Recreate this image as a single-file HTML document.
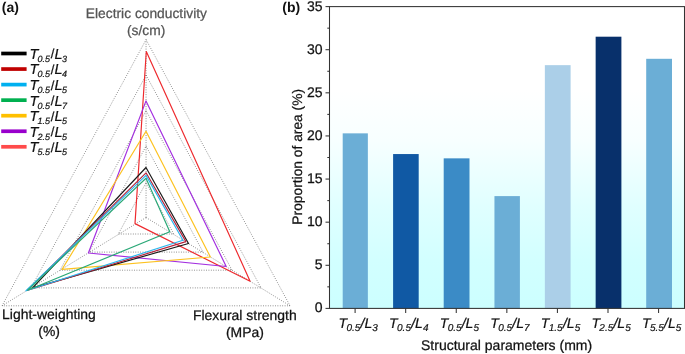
<!DOCTYPE html>
<html lang="en"><head><meta charset="utf-8"><title>Figure</title>
<style>
html,body{margin:0;padding:0;background:#fff;}
body{width:685px;height:354px;overflow:hidden;}
svg{display:block;font-family:'Liberation Sans', Arial, Helvetica, sans-serif;text-rendering:geometricPrecision;}
text{white-space:pre;}
</style></head><body>
<svg width="685" height="354" viewBox="0 0 685 354">
<defs><linearGradient id="bg" gradientUnits="userSpaceOnUse" x1="0" y1="6.6" x2="0" y2="308.4">
<stop offset="0.0000" stop-color="#ffffff"/>
<stop offset="0.2763" stop-color="#ffffff"/>
<stop offset="0.4453" stop-color="#f7ffff"/>
<stop offset="0.6607" stop-color="#e0ffff"/>
<stop offset="0.8396" stop-color="#d2ffff"/>
<stop offset="1.0000" stop-color="#ccffff"/>
</linearGradient></defs>
<rect x="0" y="0" width="685" height="354" fill="#ffffff"/>
<g fill="none" stroke="#555" stroke-width="0.75" stroke-dasharray="0.85 1.55">
<polygon points="146.05,182.6 173.75,234 118.35,234"/>
<polygon points="146.05,146.1 203.05,252.1 89.05,252.1"/>
<polygon points="146.05,110.6 232.05,270.2 60.05,270.2"/>
<polygon points="146.05,75.1 261.05,287.9 31.05,287.9"/>
<polygon points="146.05,39.6 290.05,305.8 2.05,305.8"/>
<line x1="146.05" y1="217.5" x2="146.05" y2="39.6"/>
<line x1="146.05" y1="217.5" x2="290.05" y2="305.8"/>
<line x1="146.05" y1="217.5" x2="2.05" y2="305.8"/>
</g>
<g fill="none" stroke-width="1.18" stroke-linejoin="round">
<polygon stroke="#ee2a2e" points="146.3,51.5 250.1,281.2 135,223.6"/>
<polygon stroke="#a32fe0" points="146,100.9 226.2,266.5 88.4,253"/>
<polygon stroke="#fdc21f" points="146,131.3 210.4,257 62.1,269.3"/>
<polygon stroke="#1a1a1a" points="146,167.5 188.5,243.5 32.6,287.9"/>
<polygon stroke="#b5243c" points="146,172.8 185.9,241.6 27,290.5"/>
<polygon stroke="#2bb6ee" points="146,175.4 183,240.2 26,290.8"/>
<polygon stroke="#2aa877" points="146,178.2 169.8,231.8 27.6,290.2"/>
</g>
<line x1="1.2" y1="53.5" x2="26.6" y2="53.5" stroke="#000000" stroke-width="3.7"/>
<text fill="#111" stroke="#111" stroke-width="0.2"><tspan x="29.6" y="58.9" font-size="14.5" font-style="italic">T</tspan><tspan x="37.46" y="61.9" font-size="9" font-style="italic">0.5</tspan><tspan x="50.85" y="58.4" font-size="13" font-style="normal">/</tspan><tspan x="54.45" y="58.9" font-size="14.5" font-style="italic">L</tspan><tspan x="62.09" y="61.9" font-size="9" font-style="italic">3</tspan></text>
<line x1="1.2" y1="69.05" x2="26.6" y2="69.05" stroke="#c00000" stroke-width="3.7"/>
<text fill="#111" stroke="#111" stroke-width="0.2"><tspan x="29.6" y="74.45" font-size="14.5" font-style="italic">T</tspan><tspan x="37.46" y="77.45" font-size="9" font-style="italic">0.5</tspan><tspan x="50.85" y="73.95" font-size="13" font-style="normal">/</tspan><tspan x="54.45" y="74.45" font-size="14.5" font-style="italic">L</tspan><tspan x="62.09" y="77.45" font-size="9" font-style="italic">4</tspan></text>
<line x1="1.2" y1="84.6" x2="26.6" y2="84.6" stroke="#00b0f0" stroke-width="3.7"/>
<text fill="#111" stroke="#111" stroke-width="0.2"><tspan x="29.6" y="90" font-size="14.5" font-style="italic">T</tspan><tspan x="37.46" y="93" font-size="9" font-style="italic">0.5</tspan><tspan x="50.85" y="89.5" font-size="13" font-style="normal">/</tspan><tspan x="54.45" y="90" font-size="14.5" font-style="italic">L</tspan><tspan x="62.09" y="93" font-size="9" font-style="italic">5</tspan></text>
<line x1="1.2" y1="100.15" x2="26.6" y2="100.15" stroke="#00b050" stroke-width="3.7"/>
<text fill="#111" stroke="#111" stroke-width="0.2"><tspan x="29.6" y="105.55" font-size="14.5" font-style="italic">T</tspan><tspan x="37.46" y="108.55" font-size="9" font-style="italic">0.5</tspan><tspan x="50.85" y="105.05" font-size="13" font-style="normal">/</tspan><tspan x="54.45" y="105.55" font-size="14.5" font-style="italic">L</tspan><tspan x="62.09" y="108.55" font-size="9" font-style="italic">7</tspan></text>
<line x1="1.2" y1="115.7" x2="26.6" y2="115.7" stroke="#ffc000" stroke-width="3.7"/>
<text fill="#111" stroke="#111" stroke-width="0.2"><tspan x="29.6" y="121.1" font-size="14.5" font-style="italic">T</tspan><tspan x="37.46" y="124.1" font-size="9" font-style="italic">1.5</tspan><tspan x="50.85" y="120.6" font-size="13" font-style="normal">/</tspan><tspan x="54.45" y="121.1" font-size="14.5" font-style="italic">L</tspan><tspan x="62.09" y="124.1" font-size="9" font-style="italic">5</tspan></text>
<line x1="1.2" y1="131.25" x2="26.6" y2="131.25" stroke="#9900cc" stroke-width="3.7"/>
<text fill="#111" stroke="#111" stroke-width="0.2"><tspan x="29.6" y="136.65" font-size="14.5" font-style="italic">T</tspan><tspan x="37.46" y="139.65" font-size="9" font-style="italic">2.5</tspan><tspan x="50.85" y="136.15" font-size="13" font-style="normal">/</tspan><tspan x="54.45" y="136.65" font-size="14.5" font-style="italic">L</tspan><tspan x="62.09" y="139.65" font-size="9" font-style="italic">5</tspan></text>
<line x1="1.2" y1="146.8" x2="26.6" y2="146.8" stroke="#ff4b4b" stroke-width="3.7"/>
<text fill="#111" stroke="#111" stroke-width="0.2"><tspan x="29.6" y="152.2" font-size="14.5" font-style="italic">T</tspan><tspan x="37.46" y="155.2" font-size="9" font-style="italic">5.5</tspan><tspan x="50.85" y="151.7" font-size="13" font-style="normal">/</tspan><tspan x="54.45" y="152.2" font-size="14.5" font-style="italic">L</tspan><tspan x="62.09" y="155.2" font-size="9" font-style="italic">5</tspan></text>
<text x="1.75" y="11.75" font-size="14" font-weight="bold" fill="#111">(a)</text>
<g font-size="13.8" text-anchor="middle" fill="#555" stroke="#555" stroke-width="0.25">
<text x="146.4" y="18.1">Electric conductivity</text>
<text x="146.1" y="34.6">(s/cm)</text>
</g>
<g font-size="13.95" text-anchor="middle" fill="#111" stroke="#111" stroke-width="0.25">
<text x="49" y="318.9">Light-weighting</text>
<text x="49.1" y="335.7">(%)</text>
<text x="244.8" y="320.0">Flexural strength</text>
<text x="244.9" y="336.5">(MPa)</text>
</g>
<rect x="329.5" y="6.6" width="355" height="301.8" fill="url(#bg)"/>
<rect x="342.7" y="133.35" width="25.15" height="175.05" fill="#6baed6"/>
<rect x="393.1" y="154.05" width="25.6" height="154.35" fill="#1059a4"/>
<rect x="443.7" y="158.35" width="25.8" height="150.05" fill="#3b8bc6"/>
<rect x="494.45" y="196.1" width="25.45" height="112.3" fill="#6baed6"/>
<rect x="544.85" y="65.15" width="25.75" height="243.25" fill="#abcfe8"/>
<rect x="595.65" y="36.7" width="25.75" height="271.7" fill="#08306b"/>
<rect x="646.2" y="58.8" width="25.8" height="249.6" fill="#6baed6"/>
<g stroke="#333" stroke-width="1.05" fill="none">
<rect x="329.5" y="6.6" width="355" height="301.8"/>
<line x1="325.5" y1="308.4" x2="329.5" y2="308.4"/>
<line x1="325.5" y1="265.29" x2="329.5" y2="265.29"/>
<line x1="325.5" y1="222.17" x2="329.5" y2="222.17"/>
<line x1="325.5" y1="179.06" x2="329.5" y2="179.06"/>
<line x1="325.5" y1="135.94" x2="329.5" y2="135.94"/>
<line x1="325.5" y1="92.83" x2="329.5" y2="92.83"/>
<line x1="325.5" y1="49.71" x2="329.5" y2="49.71"/>
<line x1="325.5" y1="6.6" x2="329.5" y2="6.6"/>
<line x1="327.3" y1="286.84" x2="329.5" y2="286.84"/>
<line x1="327.3" y1="243.73" x2="329.5" y2="243.73"/>
<line x1="327.3" y1="200.61" x2="329.5" y2="200.61"/>
<line x1="327.3" y1="157.5" x2="329.5" y2="157.5"/>
<line x1="327.3" y1="114.39" x2="329.5" y2="114.39"/>
<line x1="327.3" y1="71.27" x2="329.5" y2="71.27"/>
<line x1="327.3" y1="28.16" x2="329.5" y2="28.16"/>
<line x1="355.1" y1="308.4" x2="355.1" y2="313"/>
<line x1="405.68" y1="308.4" x2="405.68" y2="313"/>
<line x1="456.26" y1="308.4" x2="456.26" y2="313"/>
<line x1="506.84" y1="308.4" x2="506.84" y2="313"/>
<line x1="557.42" y1="308.4" x2="557.42" y2="313"/>
<line x1="608" y1="308.4" x2="608" y2="313"/>
<line x1="658.58" y1="308.4" x2="658.58" y2="313"/>
</g>
<g font-size="14" text-anchor="end" fill="#111" stroke="#111" stroke-width="0.25">
<text x="322.6" y="312.4">0</text>
<text x="322.6" y="269.29">5</text>
<text x="322.6" y="226.17">10</text>
<text x="322.6" y="183.06">15</text>
<text x="322.6" y="139.94">20</text>
<text x="322.6" y="96.83">25</text>
<text x="322.6" y="53.71">30</text>
<text x="322.6" y="10.6">35</text>
</g>
<text fill="#111" stroke="#111" stroke-width="0.2"><tspan x="338.54" y="327.9" font-size="14" font-style="italic">T</tspan><tspan x="346.47" y="331.3" font-size="10" font-style="italic">0.5</tspan><tspan x="360.59" y="327.9" font-size="14" font-style="italic">/</tspan><tspan x="364.42" y="327.9" font-size="14" font-style="italic">L</tspan><tspan x="372.37" y="331.3" font-size="10" font-style="italic">3</tspan></text>
<text fill="#111" stroke="#111" stroke-width="0.2"><tspan x="389.12" y="327.9" font-size="14" font-style="italic">T</tspan><tspan x="397.05" y="331.3" font-size="10" font-style="italic">0.5</tspan><tspan x="411.17" y="327.9" font-size="14" font-style="italic">/</tspan><tspan x="415" y="327.9" font-size="14" font-style="italic">L</tspan><tspan x="422.95" y="331.3" font-size="10" font-style="italic">4</tspan></text>
<text fill="#111" stroke="#111" stroke-width="0.2"><tspan x="439.7" y="327.9" font-size="14" font-style="italic">T</tspan><tspan x="447.63" y="331.3" font-size="10" font-style="italic">0.5</tspan><tspan x="461.75" y="327.9" font-size="14" font-style="italic">/</tspan><tspan x="465.58" y="327.9" font-size="14" font-style="italic">L</tspan><tspan x="473.53" y="331.3" font-size="10" font-style="italic">5</tspan></text>
<text fill="#111" stroke="#111" stroke-width="0.2"><tspan x="490.28" y="327.9" font-size="14" font-style="italic">T</tspan><tspan x="498.21" y="331.3" font-size="10" font-style="italic">0.5</tspan><tspan x="512.33" y="327.9" font-size="14" font-style="italic">/</tspan><tspan x="516.16" y="327.9" font-size="14" font-style="italic">L</tspan><tspan x="524.11" y="331.3" font-size="10" font-style="italic">7</tspan></text>
<text fill="#111" stroke="#111" stroke-width="0.2"><tspan x="540.86" y="327.9" font-size="14" font-style="italic">T</tspan><tspan x="548.79" y="331.3" font-size="10" font-style="italic">1.5</tspan><tspan x="562.91" y="327.9" font-size="14" font-style="italic">/</tspan><tspan x="566.74" y="327.9" font-size="14" font-style="italic">L</tspan><tspan x="574.69" y="331.3" font-size="10" font-style="italic">5</tspan></text>
<text fill="#111" stroke="#111" stroke-width="0.2"><tspan x="591.44" y="327.9" font-size="14" font-style="italic">T</tspan><tspan x="599.37" y="331.3" font-size="10" font-style="italic">2.5</tspan><tspan x="613.49" y="327.9" font-size="14" font-style="italic">/</tspan><tspan x="617.32" y="327.9" font-size="14" font-style="italic">L</tspan><tspan x="625.27" y="331.3" font-size="10" font-style="italic">5</tspan></text>
<text fill="#111" stroke="#111" stroke-width="0.2"><tspan x="642.02" y="327.9" font-size="14" font-style="italic">T</tspan><tspan x="649.95" y="331.3" font-size="10" font-style="italic">5.5</tspan><tspan x="664.07" y="327.9" font-size="14" font-style="italic">/</tspan><tspan x="667.9" y="327.9" font-size="14" font-style="italic">L</tspan><tspan x="675.85" y="331.3" font-size="10" font-style="italic">5</tspan></text>
<text x="282.35" y="11.75" font-size="14" font-weight="bold" fill="#111">(b)</text>
<text x="506.6" y="349.5" font-size="14" text-anchor="middle" fill="#111" stroke="#111" stroke-width="0.25">Structural parameters (mm)</text>
<text transform="translate(302.2 156.8) rotate(-90)" font-size="13.8" text-anchor="middle" fill="#111" stroke="#111" stroke-width="0.25">Proportion of area (%)</text>
</svg></body></html>
